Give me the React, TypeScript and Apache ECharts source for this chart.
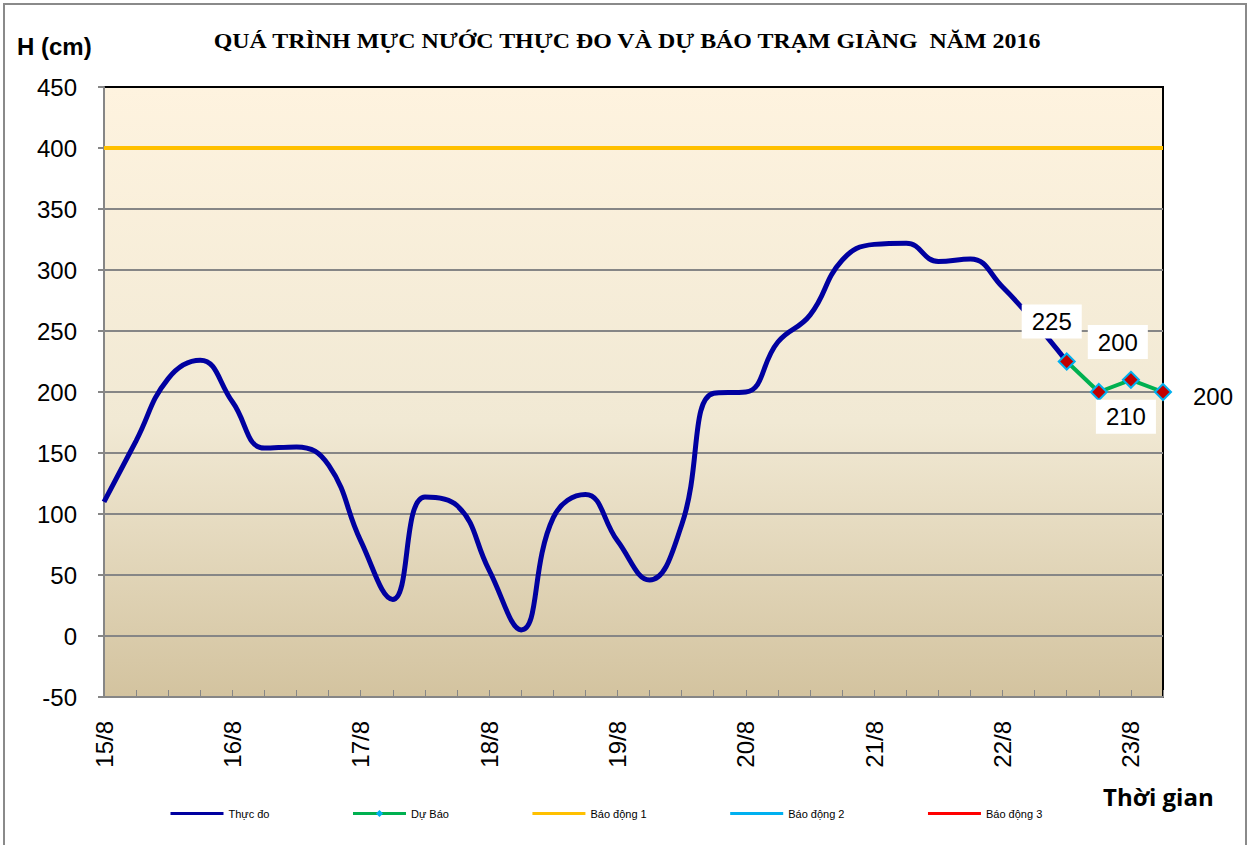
import React, { useEffect, useRef } from "react";
import * as echarts from "echarts";

const days = ["15/8", "16/8", "17/8", "18/8", "19/8", "20/8", "21/8", "22/8", "23/8"];
const hours = ["00h", "06h", "12h", "18h"];
const categories: string[] = [];
days.forEach((d, di) => {
  hours.forEach((h, hi) => {
    if (di < days.length - 1 || hi < 2) categories.push(d + " " + h);
  });
});

const thucDo = [
  110, 160, 211, 226, 192, 154, 155, 140, 78, 30, 114, 107, 54, 5, 97, 116,
  78, 46, 91, 199, 200, 241, 263, 308, 321, 322, 307, 309, 286, 257, 225,
];
const duBao = [225, 200, 210, 200];
const duBaoStart = 30;
const baoDong1 = 400;

const yTicks = { min: -50, max: 450, interval: 50 };

export default function App() {
  const ref = useRef<HTMLDivElement>(null);
  useEffect(() => {
    if (!ref.current) return;
    const chart = echarts.init(ref.current, null, { renderer: "svg" });
    const thucDoData = categories.map((_, i) => (i < thucDo.length ? thucDo[i] : null));
    const labelOffsets: [number, number][] = [
      [-15, -40],
      [19, -50],
      [-5, 37],
      [50, 4],
    ];
    const duBaoData: any[] = categories.map((_, i) => {
      const k = i - duBaoStart;
      if (k < 0 || k >= duBao.length) return null;
      return {
        value: duBao[k],
        label: {
          show: true,
          position: "inside",
          offset: labelOffsets[k],
          backgroundColor: k === 3 ? "transparent" : "#ffffff",
          padding: [6, 10, 4, 10],
        },
      };
    });
    const bd1 = categories.map(() => baoDong1);
    const font = "Arial, 'Liberation Sans', sans-serif";
    chart.setOption({
      animation: false,
      backgroundColor: "#ffffff",
      textStyle: { fontFamily: font },
      grid: {
        left: 104,
        right: 90,
        top: 87,
        bottom: 148,
        show: true,
        borderColor: "#000000",
        borderWidth: 2,
        backgroundColor: new echarts.graphic.LinearGradient(0, 0, 0, 1, [
          { offset: 0, color: "#FEF3DF" },
          { offset: 0.55, color: "#F1E9D4" },
          { offset: 1, color: "#D3C39F" },
        ]),
      },
      legend: {
        left: 164,
        top: 803,
        itemWidth: 53,
        itemHeight: 9,
        itemGap: 82,
        lineStyle: { width: 3 },
        textStyle: { fontSize: 11, color: "#000", fontFamily: font },
        data: [
          { name: "Thực đo", itemStyle: { opacity: 0 } },
          { name: "Dự Báo", itemStyle: { color: "#00B0F0", borderWidth: 0 } },
          { name: "Báo động 1", itemStyle: { opacity: 0 } },
          { name: "Báo động 2", itemStyle: { opacity: 0 } },
          { name: "Báo động 3", itemStyle: { opacity: 0 } },
        ],
      },
      xAxis: {
        type: "category",
        data: categories,
        boundaryGap: false,
        axisLine: { onZero: false, lineStyle: { color: "#868686", width: 2 } },
        axisTick: {
          show: true,
          inside: true,
          length: 7,
          interval: 0,
          lineStyle: { color: "#868686", width: 1 },
        },
        axisLabel: {
          interval: 3,
          rotate: 90,
          fontSize: 24,
          color: "#000",
          margin: 24,
          fontFamily: font,
          formatter: (v: string) => v.split(" ")[0],
        },
        splitLine: { show: false },
      },
      yAxis: {
        type: "value",
        min: yTicks.min,
        max: yTicks.max,
        interval: yTicks.interval,
        axisLine: { show: true, lineStyle: { color: "#868686", width: 2 } },
        axisTick: { show: true, length: 6, lineStyle: { color: "#868686", width: 2 } },
        axisLabel: { fontSize: 24, color: "#000", margin: 27, fontFamily: font },
        splitLine: {
          show: true,
          showMaxLine: false,
          showMinLine: false,
          lineStyle: { color: "#868686", width: 2 },
        },
      },
      series: [
        {
          name: "Báo động 1",
          type: "line",
          data: bd1,
          symbol: "none",
          lineStyle: { color: "#FFC000", width: 4 },
          itemStyle: { color: "#FFC000" },
          z: 2,
        },
        {
          name: "Thực đo",
          type: "line",
          data: thucDoData,
          smooth: 0.45,
          symbol: "none",
          lineStyle: { color: "#0000A0", width: 5 },
          itemStyle: { color: "#0000A0" },
          z: 3,
        },
        {
          name: "Dự Báo",
          type: "line",
          data: duBaoData,
          symbol: "diamond",
          symbolSize: 16,
          lineStyle: { color: "#00B050", width: 4 },
          itemStyle: { color: "#C00000", borderColor: "#00B0F0", borderWidth: 2 },
          label: { fontSize: 24, color: "#000", fontFamily: font },
          z: 4,
        },
        {
          name: "Báo động 2",
          type: "line",
          data: [],
          symbol: "none",
          lineStyle: { color: "#00B0F0", width: 3 },
          itemStyle: { color: "#00B0F0" },
        },
        {
          name: "Báo động 3",
          type: "line",
          data: [],
          symbol: "none",
          lineStyle: { color: "#FF0000", width: 3 },
          itemStyle: { color: "#FF0000" },
        },
      ],
      graphic: [
        {
          type: "rect",
          shape: { x: 4, y: 4, width: 1242, height: 860 },
          style: { fill: "none", stroke: "#8A8A8A", lineWidth: 2 },
          silent: true,
        },
        {
          type: "text",
          x: 627,
          y: 41,
          scaleX: 1.087,
          originX: 0,
          originY: 0,
          style: {
            text: "QUÁ TRÌNH MỰC NƯỚC THỰC ĐO VÀ DỰ BÁO TRẠM GIÀNG  NĂM 2016",
            fontFamily: "'Liberation Serif', 'Times New Roman', serif",
            fontWeight: "bold",
            fontSize: 22,
            fill: "#000",
            align: "center",
            verticalAlign: "middle",
          },
        },
        {
          type: "text",
          x: 17,
          y: 46,
          style: {
            text: "H (cm)",
            fontFamily: font,
            fontWeight: "bold",
            fontSize: 24,
            fill: "#000",
            align: "left",
            verticalAlign: "middle",
          },
        },
        {
          type: "text",
          x: 1103,
          y: 796,
          style: {
            text: "Thời gian",
            fontFamily: "'Open Sans', sans-serif",
            fontWeight: "bold",
            fontSize: 24,
            fill: "#000",
            align: "left",
            verticalAlign: "middle",
          },
        },
      ],
    });
    return () => chart.dispose();
  }, []);
  return (
    <div
      ref={ref}
      style={{ position: "absolute", left: 0, top: 0, width: 1253, height: 845 }}
    />
  );
}
